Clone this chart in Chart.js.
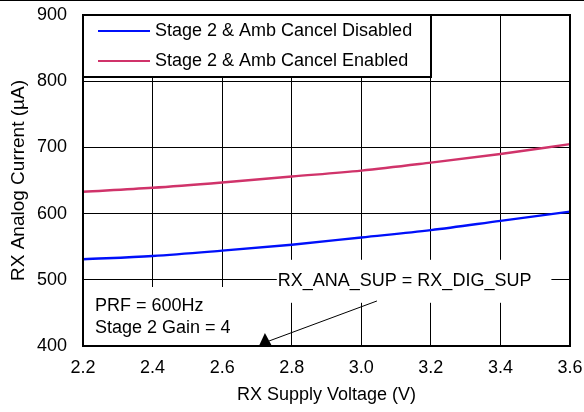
<!DOCTYPE html>
<html>
<head>
<meta charset="utf-8">
<script src="https://cdn.jsdelivr.net/npm/chart.js@4"></script>
<style>
  html, body { margin: 0; padding: 0; background: #fff; }
  #wrap { width: 584px; height: 412px; }
</style>
</head>
<body>
<div id="wrap"><canvas id="chart" width="584" height="412"></canvas></div>
<script>
// values
const voltages = [2.2, 2.4, 2.6, 2.8, 3.0, 3.2, 3.4, 3.6];
const currentDisabled = [531, 536, 544, 553, 564, 575, 589, 603];
const currentEnabled = [633, 639, 647, 656, 665, 677, 690, 705];
const seriesLabels = ['Stage 2 & Amb Cancel Disabled', 'Stage 2 & Amb Cancel Enabled'];
const seriesColors = ['#0010fa', '#d0336a'];
const noteLines = ['PRF = 600Hz', 'Stage 2 Gain = 4'];
const supplyNote = 'RX_ANA_SUP = RX_DIG_SUP';
const arrowFrom = { x: 3.045, y: 468 };
const arrowTo = { x: 2.723, y: 409 };

const FONT = '"Liberation Sans", Arial, sans-serif';

// fixed axis boxes, no extra room for overhanging tick labels
function fixBox(size) {
  return s => {
    if (s.isHorizontal()) s.height = size; else s.width = size;
    s.paddingTop = s.paddingBottom = s.paddingLeft = s.paddingRight = 0;
  };
}

// legend box, text boxes, arrow and frame drawn on top of the plot
const overlay = {
  id: 'overlay',
  afterDatasetsDraw(chart) {
    const { ctx, chartArea: a, scales: { x, y } } = chart;
    ctx.save();

    // legend
    ctx.fillStyle = '#fff';
    ctx.fillRect(a.left, a.top, 348, 62);
    ctx.lineWidth = 2;
    ctx.strokeStyle = '#000';
    ctx.strokeRect(a.left, a.top, 348, 62);
    ctx.font = '18px ' + FONT;
    ctx.textBaseline = 'middle';
    ctx.textAlign = 'left';
    seriesLabels.forEach((lbl, i) => {
      const ly = a.top + 16 + i * 30;
      ctx.strokeStyle = seriesColors[i];
      ctx.lineWidth = 2;
      ctx.beginPath();
      ctx.moveTo(a.left + 15, ly);
      ctx.lineTo(a.left + 67, ly);
      ctx.stroke();
      ctx.fillStyle = '#000';
      ctx.fillText(lbl, a.left + 72, ly);
    });

    // supply note, sits on the 500 line
    const nx = x.getPixelForValue(2.76);
    const ny = y.getPixelForValue(500);
    const nw = ctx.measureText(supplyNote).width;
    ctx.fillStyle = '#fff';
    ctx.fillRect(nx - 1, ny - 20, nw + 21, 43);
    ctx.fillStyle = '#000';
    ctx.fillText(supplyNote, nx, ny + 1);

    // PRF / gain note
    ctx.fillStyle = '#fff';
    ctx.fillRect(a.left + 1, a.bottom - 59, 150, 58);
    ctx.fillStyle = '#000';
    noteLines.forEach((t, i) => ctx.fillText(t, a.left + 12, a.bottom - 40 + i * 22));

    // arrow
    const x0 = x.getPixelForValue(arrowFrom.x), y0 = y.getPixelForValue(arrowFrom.y);
    const x1 = x.getPixelForValue(arrowTo.x), y1 = y.getPixelForValue(arrowTo.y);
    ctx.strokeStyle = '#000';
    ctx.lineWidth = 1;
    ctx.beginPath();
    ctx.moveTo(x0, y0);
    ctx.lineTo(x1 + 4, y1 + 1);
    ctx.stroke();
    ctx.beginPath();
    ctx.moveTo(x1, a.bottom - 13);
    ctx.lineTo(x1 - 6, a.bottom);
    ctx.lineTo(x1 + 7, a.bottom);
    ctx.closePath();
    ctx.fillStyle = '#000';
    ctx.fill();

    // plot frame
    ctx.lineWidth = 2;
    ctx.strokeStyle = '#000';
    ctx.strokeRect(a.left, a.top, a.right - a.left, a.bottom - a.top);

    // thin line along the top edge of the picture
    ctx.fillRect(0, 0, chart.width, 1);
    ctx.restore();
  }
};

new Chart(document.getElementById('chart'), {
  type: 'line',
  data: {
    datasets: [
      {
        label: seriesLabels[0],
        data: voltages.map((v, i) => ({ x: v, y: currentDisabled[i] })),
        borderColor: seriesColors[0],
        borderWidth: 2.4,
        pointRadius: 0,
        cubicInterpolationMode: 'monotone'
      },
      {
        label: seriesLabels[1],
        data: voltages.map((v, i) => ({ x: v, y: currentEnabled[i] })),
        borderColor: seriesColors[1],
        borderWidth: 2.4,
        pointRadius: 0,
        cubicInterpolationMode: 'monotone'
      }
    ]
  },
  options: {
    responsive: false,
    animation: false,
    layout: { padding: { top: 15, right: 14, left: 0, bottom: 0 } },
    plugins: { legend: { display: false }, tooltip: { enabled: false } },
    scales: {
      x: {
        type: 'linear',
        min: 2.2,
        max: 3.6,
        afterFit: fixBox(66),
        grid: { color: '#000', lineWidth: 1, drawTicks: false },
        border: { display: false },
        ticks: {
          stepSize: 0.2,
          padding: 11,
          color: '#000',
          font: { family: FONT, size: 18 },
          maxRotation: 0,
          callback: v => v.toFixed(1)
        },
        title: {
          display: true,
          text: 'RX Supply Voltage (V)',
          color: '#000',
          font: { family: FONT, size: 18 },
          padding: { top: 0, bottom: 6 }
        }
      },
      y: {
        min: 400,
        max: 900,
        afterFit: fixBox(83),
        grid: { color: '#000', lineWidth: 1, drawTicks: false },
        border: { display: false },
        ticks: {
          stepSize: 100,
          padding: 16,
          color: '#000',
          font: { family: FONT, size: 18 }
        },
        title: {
          display: true,
          text: 'RX Analog Current (µA)',
          color: '#000',
          font: { family: FONT, size: 19 },
          padding: { top: 7, bottom: 0 }
        }
      }
    }
  },
  plugins: [overlay]
});
</script>
</body>
</html>
